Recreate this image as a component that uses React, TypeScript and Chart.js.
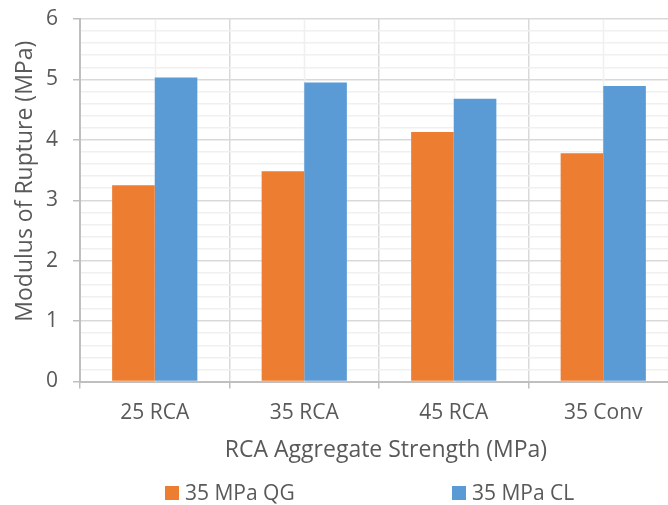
import React, { useEffect, useRef } from "react";
import { Chart, registerables } from "chart.js";

Chart.register(...registerables);

// Aggregate mixes on the category axis
const categories = ["25 RCA", "35 RCA", "45 RCA", "35 Conv"];
// Modulus of rupture (MPa) for each paste series
const seriesQG = [3.25, 3.48, 4.13, 3.78];
const seriesCL = [5.03, 4.95, 4.68, 4.89];
const seriesNames = ["35 MPa QG", "35 MPa CL"];
const seriesColors = ["#ED7D31", "#5B9BD5"];

const yTitle = "Modulus of Rupture (MPa)";
const xTitle = "RCA Aggregate Strength (MPa)";

const FONT = "'Open Sans', 'Noto Sans', sans-serif";
const TEXT = "#595959";
const AXIS = "#bfbfbf";
const MAJOR = "#d9d9d9";
const MINOR = "#f0f0f0";

const isWhole = (v: number) => Math.abs(v - Math.round(v)) < 1e-6;

// Light vertical guides through the middle of every category
const centerLines = {
  id: "centerLines",
  beforeDatasetsDraw(chart: any) {
    const { ctx, chartArea, scales } = chart;
    ctx.save();
    ctx.strokeStyle = MINOR;
    ctx.lineWidth = 1.5;
    categories.forEach((_, i) => {
      const x = Math.round(scales.x.getPixelForValue(i)) + 0.5;
      ctx.beginPath();
      ctx.moveTo(x, chartArea.top);
      ctx.lineTo(x, chartArea.bottom);
      ctx.stroke();
    });
    ctx.restore();
  },
};

// Axis titles and the bottom legend
const annotations = {
  id: "annotations",
  afterDraw(chart: any) {
    const { ctx, chartArea } = chart;
    ctx.save();
    ctx.fillStyle = TEXT;

    ctx.font = `23px ${FONT}`;
    ctx.textAlign = "center";
    ctx.textBaseline = "alphabetic";
    ctx.save();
    ctx.translate(31.5, (chartArea.top + chartArea.bottom) / 2 - 19);
    ctx.rotate(-Math.PI / 2);
    ctx.fillText(yTitle, 0, 0);
    ctx.restore();

    ctx.fillText(xTitle, (chartArea.left + chartArea.right) / 2 + 7, 457);

    ctx.font = `21px ${FONT}`;
    ctx.textAlign = "left";
    const legendX = [165, 452];
    chart.data.datasets.forEach((ds: any, i: number) => {
      ctx.fillStyle = ds.backgroundColor;
      ctx.fillRect(legendX[i], 486, 14, 14);
      ctx.fillStyle = TEXT;
      ctx.fillText(ds.label, legendX[i] + 20, 500);
    });
    ctx.restore();
  },
};

export default function App() {
  const canvasRef = useRef<HTMLCanvasElement | null>(null);

  useEffect(() => {
    if (!canvasRef.current) return;
    const chart = new Chart(canvasRef.current, {
      type: "bar",
      data: {
        labels: categories,
        datasets: [
          { label: seriesNames[0], data: seriesQG, backgroundColor: seriesColors[0] },
          { label: seriesNames[1], data: seriesCL, backgroundColor: seriesColors[1] },
        ],
      },
      options: {
        responsive: false,
        animation: false,
        layout: { padding: { top: 19, right: 10, left: 0, bottom: 0 } },
        datasets: {
          bar: { barPercentage: 1, categoryPercentage: 0.57, borderWidth: 0 },
        },
        plugins: {
          legend: { display: false },
          tooltip: { enabled: false },
          title: { display: false },
        },
        scales: {
          x: {
            grid: {
              offset: true,
              color: MAJOR,
              lineWidth: 1.5,
              tickLength: 7,
              tickColor: AXIS,
              tickWidth: 1.5,
            },
            border: { color: AXIS, width: 2 },
            ticks: {
              color: TEXT,
              font: { family: FONT, size: 21 },
              padding: 12,
              maxRotation: 0,
            },
            afterFit: (scale: any) => {
              scale.height = 505 - 381.5;
              scale.paddingLeft = 0;
              scale.paddingRight = 0;
            },
          },
          y: {
            min: 0,
            max: 6,
            grid: {
              color: (c: any) => (isWhole(c.tick.value) ? MAJOR : MINOR),
              lineWidth: 1.5,
              tickLength: 7,
              tickColor: (c: any) => (isWhole(c.tick.value) ? AXIS : "rgba(0,0,0,0)"),
              tickWidth: 1.5,
            },
            border: { color: AXIS, width: 2 },
            ticks: {
              stepSize: 0.2,
              maxTicksLimit: 100,
              autoSkip: false,
              color: TEXT,
              font: { family: FONT, size: 21 },
              padding: 15,
              callback: (v: any) => (isWhole(Number(v)) ? String(Math.round(Number(v))) : ""),
            },
            afterFit: (scale: any) => {
              scale.width = 80;
              scale.paddingTop = 0;
              scale.paddingBottom = 0;
            },
          },
        },
      },
      plugins: [centerLines, annotations],
    });
    return () => chart.destroy();
  }, []);

  return (
    <div
      style={{
        position: "fixed",
        left: 0,
        top: 0,
        width: 668,
        height: 505,
        overflow: "hidden",
        background: "#ffffff",
      }}
    >
      <canvas
        ref={canvasRef}
        width={688}
        height={505}
        style={{ display: "block", width: 688, height: 505 }}
      />
    </div>
  );
}
